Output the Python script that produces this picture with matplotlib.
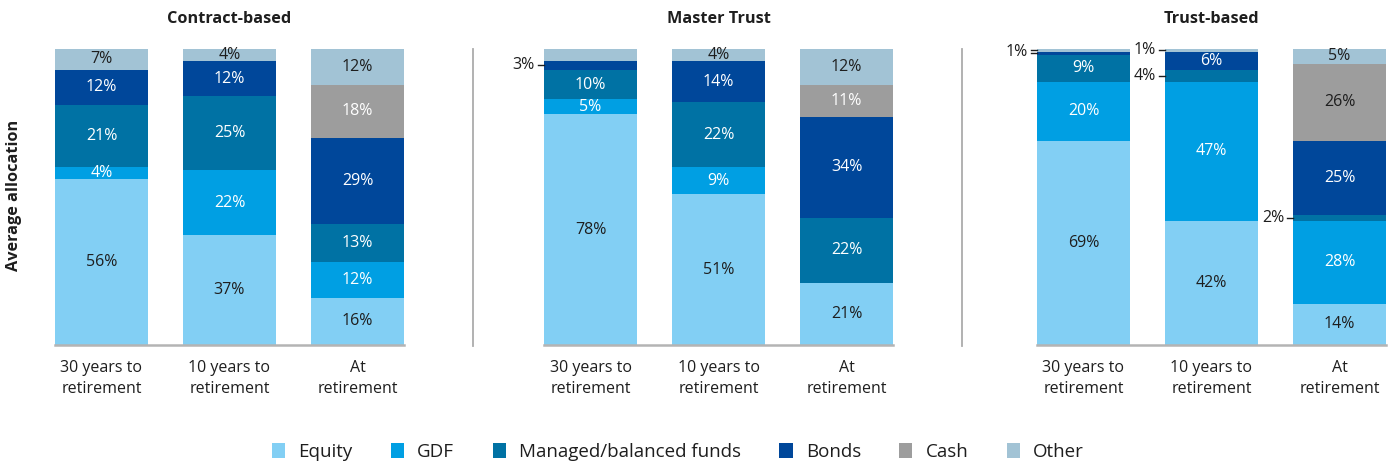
import numpy as np
import matplotlib.pyplot as plt
from matplotlib.patches import Patch
from matplotlib.lines import Line2D

# data
panels = ['Contract-based', 'Master Trust', 'Trust-based']
stages = ['30 years to\nretirement', '10 years to\nretirement', 'At\nretirement']
assets = ['Equity', 'GDF', 'Managed/balanced funds', 'Bonds', 'Cash', 'Other']
colors = ['#82CFF4', '#009FE3', '#0072A4', '#00479A', '#9D9D9D', '#A2C3D5']

contract = {'Equity': [56, 37, 16], 'GDF': [4, 22, 12], 'Managed/balanced funds': [21, 25, 13],
            'Bonds': [12, 12, 29], 'Cash': [0, 0, 18], 'Other': [7, 4, 12]}
master = {'Equity': [78, 51, 21], 'GDF': [5, 9, 0], 'Managed/balanced funds': [10, 22, 22],
          'Bonds': [3, 14, 34], 'Cash': [0, 0, 11], 'Other': [4, 4, 12]}
trust = {'Equity': [69, 42, 14], 'GDF': [20, 47, 28], 'Managed/balanced funds': [9, 4, 2],
         'Bonds': [1, 6, 25], 'Cash': [0, 0, 26], 'Other': [1, 1, 5]}
data = [contract, master, trust]

# segments labelled outside with a leader line: (panel, bar, [assets])
outside = [(1, 0, ['Bonds']), (2, 0, ['Other', 'Bonds']), (2, 1, ['Other']),
           (2, 1, ['Managed/balanced funds']), (2, 2, ['Managed/balanced funds'])]
hidden = [(1, 0, 'Other')]
dark_text = ['Equity', 'Other']

W, H = 1397, 466
fig = plt.figure(figsize=(W / 100, H / 100), dpi=100)
plt.rcParams['font.family'] = ['Open Sans', 'DejaVu Sans']

lefts = [55, 544, 1037]
top, height, width = 49, 296, 349
bw = 93 / 128
ink = '#1e1e1e'

def fy(p):
    return 1 - p / H

for k, d in enumerate(data):
    ax = fig.add_axes([lefts[k] / W, fy(top + height), width / W, height / H])
    x = np.arange(3)
    bottom = np.zeros(3)
    out_set = [(b, a) for (p, b, lst) in outside if p == k for a in lst]
    for a, c in zip(assets, colors):
        v = np.array(d[a], dtype=float)
        ax.bar(x, v, bw, bottom=bottom, color=c, linewidth=0)
        for i in range(3):
            if v[i] <= 0 or (i, a) in out_set or (k, i, a) in hidden:
                continue
            tc = ink if (a in dark_text or (k == 2 and a == 'Cash')) else 'white'
            ax.text(x[i], bottom[i] + v[i] / 2, f'{int(v[i])}%', ha='center', va='center',
                    fontsize=11.5, color=tc)
        bottom += v
    # leader labels
    for (p, b, lst) in outside:
        if p != k:
            continue
        ys = []
        for a in lst:
            idx = assets.index(a)
            base = sum(d[assets[j]][b] for j in range(idx))
            ym = base + d[a][b] / 2
            ys.append(ym)
            ax.plot([b - bw / 2 - 0.05, b - bw / 2], [ym, ym], color=ink, lw=1,
                    clip_on=False)
        ax.text(b - bw / 2 - 0.07, np.mean(ys), f'{d[lst[0]][b]}%', ha='right', va='center',
                fontsize=11.5, color=ink)
    ax.set_xlim(-bw / 2, 2 + bw / 2)
    ax.set_ylim(0, 100)
    for s in ['top', 'right', 'left']:
        ax.spines[s].set_visible(False)
    ax.spines['bottom'].set_color('#B4B4B4')
    ax.spines['bottom'].set_linewidth(1.8)
    ax.set_yticks([])
    ax.set_xticks(x)
    ax.set_xticklabels(stages, fontsize=11.5, color=ink, linespacing=1.4)
    ax.tick_params(axis='x', length=0, pad=11)
    fig.text((lefts[k] + width / 2) / W, fy(19), panels[k], ha='center', va='center',
             fontsize=11.7, fontweight='bold', color=ink)

for xd in [473, 962]:
    fig.add_artist(Line2D([xd / W, xd / W], [fy(49), fy(346)], color='#ABABAB', lw=1.3))

fig.text(14 / W, fy(195), 'Average allocation', rotation=90, ha='center', va='center',
         fontsize=11.7, fontweight='bold', color=ink)

handles = [Patch(facecolor=c, edgecolor='none') for c in colors]
fig.legend(handles, assets, loc='center', bbox_to_anchor=(678 / W, fy(452)), ncol=6,
           frameon=False, fontsize=13.5, handlelength=0.7, handleheight=0.9,
           handletextpad=0.7, columnspacing=2.05, labelcolor=ink)

fig.savefig('out.png', dpi=100)
